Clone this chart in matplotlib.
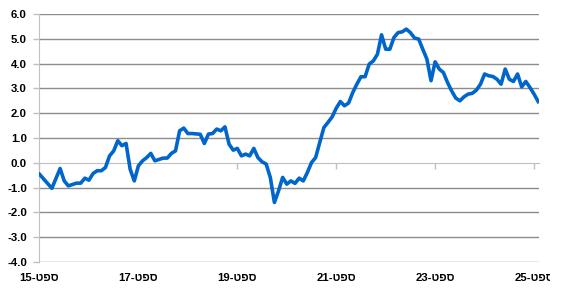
import matplotlib
matplotlib.use("Agg")
import matplotlib.pyplot as plt
from matplotlib.transforms import Bbox, TransformedBbox, blended_transform_factory

plt.rcParams['font.family'] = ['Liberation Sans', 'DejaVu Sans']

# months since Sep 2015 and the value read for that month
months = [0, 1, 3, 5, 6, 7, 9, 10, 11, 12, 13, 14, 15, 16, 17, 18, 19, 20,
          21, 22, 23, 24, 25, 26, 27, 28, 30, 31, 32, 33, 34, 35, 36, 37, 39,
          40, 41, 42, 43, 44, 45, 46, 47, 48, 49, 50, 51, 52, 53, 54, 55, 56,
          57, 58, 59, 60, 61, 62, 63, 64, 65, 66, 67, 68, 69, 70, 71, 72, 73,
          74, 75, 76, 77, 78, 79, 80, 81, 82, 83, 84, 85, 86, 87, 88, 89, 90,
          91, 92, 93, 94, 95, 96, 97, 98, 99, 100, 101, 102, 103, 104, 105,
          106, 107, 108, 109, 110, 111, 112, 113, 114, 115, 116, 117, 118,
          119, 120, 121]
values = [-0.46, -0.65, -1.03, -0.23, -0.73, -0.93, -0.82, -0.82, -0.62, -0.70,
          -0.43, -0.32, -0.32, -0.19, 0.28, 0.48, 0.89, 0.69, 0.78, -0.26,
          -0.73, -0.12, 0.08, 0.21, 0.38, 0.08, 0.19, 0.19, 0.38, 0.48, 1.29,
          1.40, 1.18, 1.18, 1.15, 0.78, 1.16, 1.18, 1.36, 1.29, 1.45, 0.75,
          0.51, 0.58, 0.28, 0.35, 0.28, 0.58, 0.21, 0.04, -0.05, -0.59, -1.60,
          -1.13, -0.59, -0.86, -0.73, -0.83, -0.62, -0.73, -0.39, 0.01, 0.21,
          0.82, 1.42, 1.63, 1.85, 2.20, 2.47, 2.30, 2.41, 2.83, 3.17, 3.47,
          3.47, 3.98, 4.11, 4.38, 5.16, 4.58, 4.58, 5.05, 5.25, 5.28, 5.39,
          5.25, 5.03, 4.99, 4.58, 4.18, 3.31, 4.07, 3.78, 3.64, 3.24, 2.90,
          2.61, 2.50, 2.66, 2.77, 2.80, 2.93, 3.17, 3.58, 3.51, 3.48, 3.37,
          3.17, 3.78, 3.37, 3.28, 3.58, 3.06, 3.28, 3.04, 2.77, 2.47]

tick_months = [0, 24, 48, 72, 96, 120]
tick_years = [15, 17, 19, 21, 23, 25]
# Hebrew "ספט" (Sep); matplotlib has no bidi, so give it in visual order
tick_labels = [f"{y}-" + "ספט"[::-1] for y in tick_years]
y_ticks = [-4, -3, -2, -1, 0, 1, 2, 3, 4, 5, 6]

W, H = 572, 294
fig = plt.figure(figsize=(W / 100, H / 100), dpi=100)
ax = fig.add_axes([39.5 / W, 1 - 262 / H, (539 - 39.5) / W, (262 - 14) / H])

ax.plot(months, values, color='#0066cc', lw=2.6, solid_joinstyle='round',
        zorder=3)

ax.set_xlim(0, 121.2)
ax.set_ylim(-4, 6)

# horizontal gridlines
for v in y_ticks:
    if v != 0:
        ax.axhline(v, color='#8c8c8c', lw=1.0, zorder=1)

# x axis crosses at zero
ax.spines['bottom'].set_position(('data', 0))
ax.spines['bottom'].set_color('#c0c0c0')
ax.spines['bottom'].set_zorder(2)
ax.spines['left'].set_color('#c0c0c0')
ax.spines['top'].set_visible(False)
ax.spines['right'].set_visible(False)

ax.set_xticks(tick_months)
ax.tick_params(axis='x', direction='out', length=4, width=1, color='#c0c0c0',
               labelbottom=False)
ax.set_yticks(y_ticks)
ax.set_yticklabels([f"{v:.1f}" for v in y_ticks], fontsize=8.2,
                   fontweight='bold')
ax.tick_params(axis='y', direction='out', length=4, width=1, color='#c0c0c0',
               pad=5)

# tick labels along the bottom, the right edge clipped like the source
trans = blended_transform_factory(ax.transData, ax.transAxes)
clip = TransformedBbox(Bbox([[0, 0], [550 / W, 1]]), fig.transFigure)
for m, lab in zip(tick_months, tick_labels):
    t = ax.text(m, -0.065, lab, transform=trans, ha='center', va='center',
                fontsize=8.2, fontweight='bold')
    t.set_clip_box(clip)
    t.set_clip_on(True)

fig.savefig('out.png', dpi=100)
